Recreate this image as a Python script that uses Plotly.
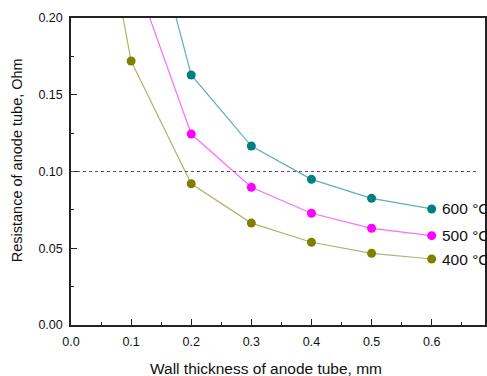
import plotly.graph_objects as go

thickness_400 = [0.05, 0.1, 0.2, 0.3, 0.4, 0.5, 0.6]
res_400 = [0.277, 0.172, 0.092, 0.0664, 0.0539, 0.0467, 0.043]
thickness_hi = [0.1, 0.2, 0.3, 0.4, 0.5, 0.6]
res_500 = [0.234, 0.1244, 0.0897, 0.0728, 0.063, 0.0582]
res_600 = [0.311, 0.1629, 0.1166, 0.0949, 0.0825, 0.0756]
series_labels = ["400 °C", "500 °C", "600 °C"]
x_ticks = [0, 0.1, 0.2, 0.3, 0.4, 0.5, 0.6]
x_ticktext = ["0.0", "0.1", "0.2", "0.3", "0.4", "0.5", "0.6"]
y_ticks = [0, 0.05, 0.1, 0.15, 0.2]
y_ticktext = ["0.00", "0.05", "0.10", "0.15", "0.20"]
threshold = 0.10

line_colors = ["#b3b36c", "#ff6cff", "#5fb0b0"]
marker_colors = ["#808000", "#ff00ff", "#008080"]
FONT = "Liberation Sans, Arial"

fig = go.Figure()
data = [(thickness_400, res_400), (thickness_hi, res_500), (thickness_hi, res_600)]
for (xs, ys), lab, lc, mc in zip(data, series_labels, line_colors, marker_colors):
    fig.add_trace(go.Scatter(
        x=xs, y=ys, mode="lines+markers", name=lab,
        line=dict(color=lc, width=1.2),
        marker=dict(color=mc, size=9),
        cliponaxis=True, showlegend=False))
    fig.add_annotation(x=xs[-1], y=ys[-1], text=lab, showarrow=False,
                       xanchor="left", xshift=8, yanchor="middle",
                       font=dict(family=FONT, size=15.5, color="#111"))

fig.add_shape(type="line", xref="paper", yref="y", x0=0, x1=0.985,
              y0=threshold, y1=threshold,
              line=dict(color="#555", width=1.2, dash="dot"))

# axis titles placed as annotations (pixel-accurate placement)
fig.add_annotation(xref="paper", yref="paper", x=(267 - 71) / 416, y=(325 - 368) / 307,
                   text="Wall thickness of anode tube, mm", showarrow=False,
                   xanchor="center", yanchor="middle",
                   font=dict(family=FONT, size=15.5, color="#111"))
fig.add_annotation(xref="paper", yref="paper", x=(17 - 71) / 416, y=(325 - 160) / 307,
                   text="Resistance of anode tube, Ohm", showarrow=False, textangle=-90,
                   xanchor="center", yanchor="middle",
                   font=dict(family=FONT, size=14.5, color="#111"))

fig.update_layout(
    width=487, height=376,
    margin=dict(l=71, r=0, t=18, b=51),
    paper_bgcolor="white", plot_bgcolor="white",
    font=dict(family=FONT, size=12.5, color="#111"),
)
fig.update_xaxes(range=[0, 0.6887], tickvals=x_ticks, ticktext=x_ticktext,
                 ticks="inside", ticklen=6, tickwidth=1.2, tickcolor="#222",
                 minor=dict(dtick=0.05, ticks="inside", ticklen=3, tickcolor="#222", tick0=0),
                 showline=True, linecolor="#222", linewidth=1.5, mirror=True,
                 showgrid=False, zeroline=False, ticklabelstandoff=4)
fig.update_yaxes(range=[0, 0.2], tickvals=y_ticks, ticktext=y_ticktext,
                 ticks="inside", ticklen=6, tickwidth=1.2, tickcolor="#222",
                 minor=dict(dtick=0.025, ticks="inside", ticklen=3, tickcolor="#222", tick0=0),
                 showline=True, linecolor="#222", linewidth=1.5, mirror=True,
                 showgrid=False, zeroline=False, ticklabelstandoff=4)

fig.write_html("out.html")
